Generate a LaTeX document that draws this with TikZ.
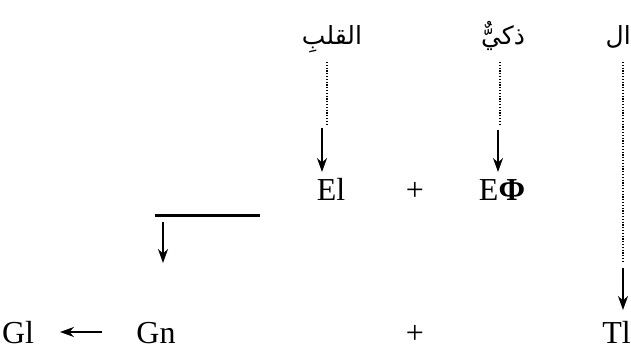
\documentclass[tikz,border=0pt]{standalone}
\usepackage{fontspec}
\setmainfont{Liberation Serif}
\newfontfamily\arabicfont[Script=Arabic]{DejaVu Sans}
\TeXXeTstate=1
\usetikzlibrary{positioning,arrows.meta}

\begin{document}
\begin{tikzpicture}[
  x=1pt, y=-1pt,
  word/.style={inner sep=0pt, font=\arabicfont\fontsize{25}{28}\selectfont},
  sym/.style={inner sep=0pt, anchor=base, font=\fontsize{32}{36}\selectfont},
  dotline/.style={line width=1.6pt, dash pattern=on 1.2pt off 1.6pt},
  flow/.style={-{Stealth[length=14pt,width=10pt]}, line width=2pt},
  bar/.style={line width=3pt}
]
\useasboundingbox (0,0) rectangle (631,350);

% arabic words on top
\node[word, anchor=base] (qalb) at (332,45) {\beginR القلبِ\endR};
\node[word, anchor=base] (dhaki) at (503,45) {\beginR ذكيٌّ\endR};
\node[word, anchor=base east] (al) at (631,45) {\beginR ال\endR};

% middle row
\node[sym] (El) at (331,200) {El};
\node[sym] (plusE) at (415,200) {+};
\node[sym] (EPhi) at (502,200) {E\textbf{Φ}};

% bottom row
\node[sym] (Gl) at (18,343) {Gl};
\node[sym] (Gn) at (156,343) {Gn};
\node[sym] (plusG) at (415,343) {+};
\node[sym, anchor=base east] (Tl) at (631,343) {Tl};

% end points of the dotted parts
\coordinate (qtop) at (327,62);
\coordinate (qend) at (327,125);
\coordinate (dtop) at (500,62);
\coordinate (dend) at (500,125);
\coordinate (atop) at (623,62);
\coordinate (aend) at (623,263);
\coordinate (barl) at (155,215);
\coordinate (barr) at (260,215);

\draw[dotline] (qtop) -- (qend);
\draw[dotline] (dtop) -- (dend);
\draw[dotline] (atop) -- (aend);

\draw[flow] (322,128) -- (322,172);
\draw[flow] (498,130) -- (498,172);
\draw[flow] (623,268) -- (623,310);

\draw[bar] (barl) -- (barr);
\draw[flow] (163,222) -- (163,263);
\draw[flow] (102,332) -- (60,332);
\end{tikzpicture}
\end{document}
